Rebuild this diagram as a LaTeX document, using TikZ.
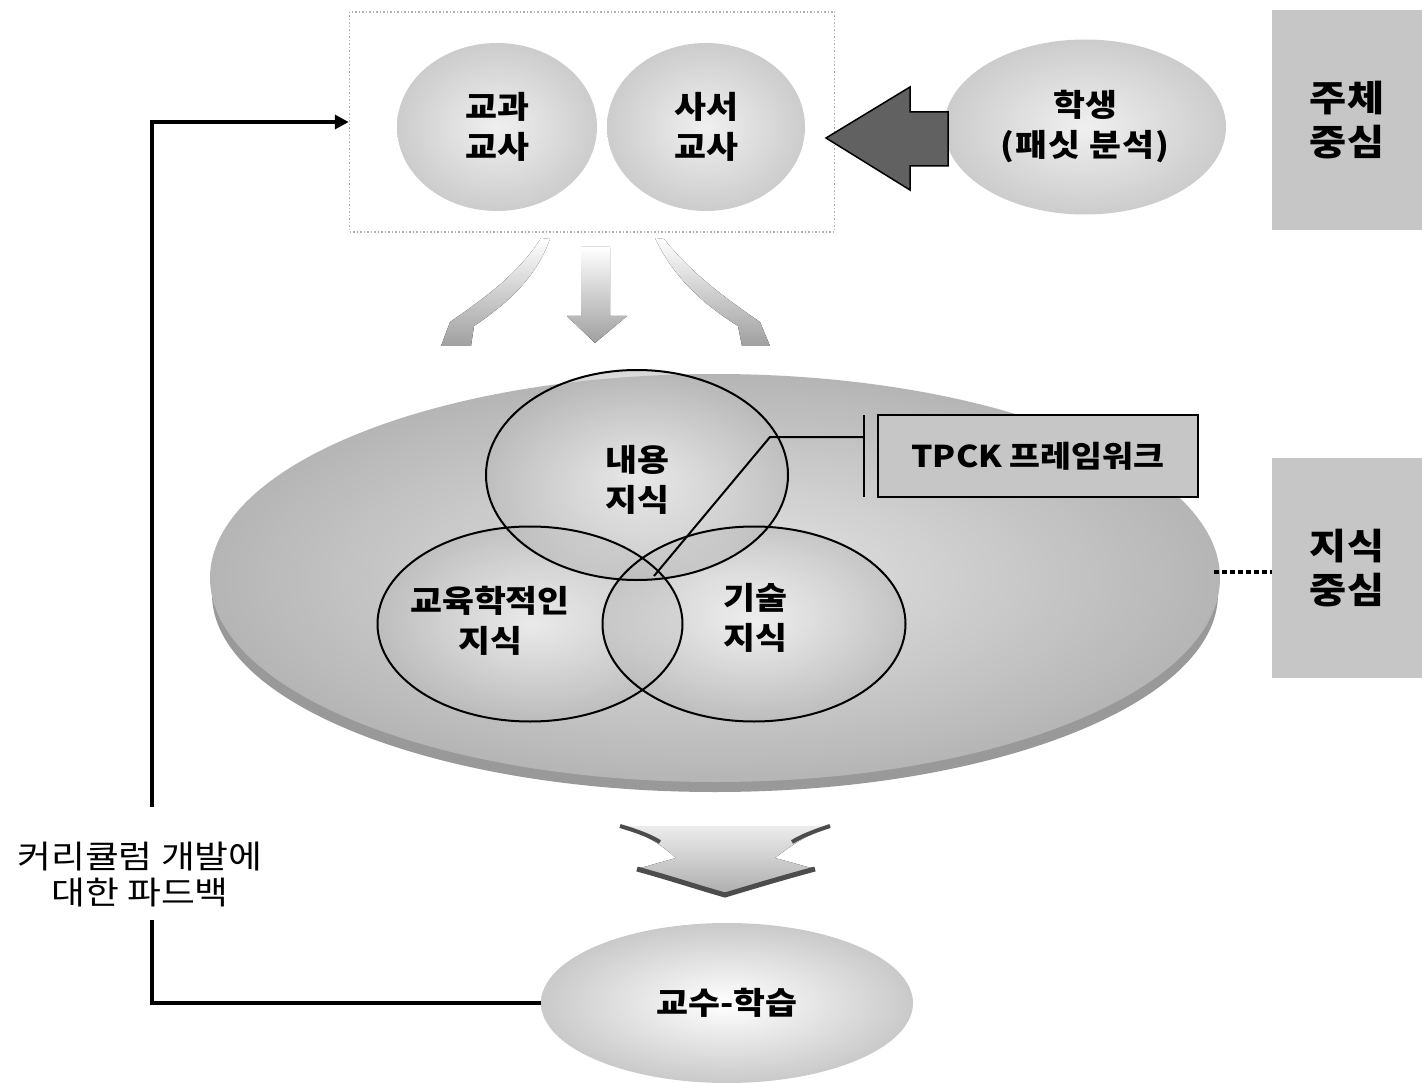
\documentclass[tikz,border=0pt]{standalone}
\usepackage{fontspec}
\newfontfamily\kr{Noto Sans CJK KR}[FakeStretch=1.12]
\newfontfamily\krwide{Noto Sans CJK KR}[FakeStretch=1.15]
\usetikzlibrary{shapes.geometric,arrows.meta}
\tikzset{
  lbl/.style={font=\kr\bfseries\fontsize{31}{40}\selectfont, align=center, text=black},
  sidelbl/.style={font=\kr\bfseries\fontsize{36}{44}\selectfont, align=center, text=black},
  softell/.style={ellipse, inner sep=0pt, shading=radial, inner color=gray!12, outer color=gray!40},
  sidebox/.style={rectangle, inner sep=0pt, fill=gray!45, minimum width=150pt, minimum height=220pt},
  vennc/.style={ellipse, inner sep=0pt, shading=radial, inner color=white, outer color=gray!55, fill opacity=0.55},
  vennline/.style={draw=black, line width=2pt},
  fadearrow/.style={shading=axis, top color=white, bottom color=gray!75},
  fbline/.style={line width=3.5pt, black},
}
\begin{document}
\begin{tikzpicture}[x=1pt,y=-1pt]
\useasboundingbox (0,0) rectangle (1422,1083);
\fill[white] (0,0) rectangle (1422,1083);

% ---- top group: teachers and student ----
\node[draw=gray!60, dotted, line width=1.5pt, minimum width=485pt, minimum height=220pt, inner sep=0pt] (topbox) at (592,122) {};
\node[softell, minimum width=200pt, minimum height=168pt] (subj) at (497,127) {};
\node[lbl] at (subj) {교과\\교사};
\node[softell, minimum width=198pt, minimum height=168pt] (libr) at (706,127) {};
\node[lbl] at (libr) {사서\\교사};
\node[softell, minimum width=282pt, minimum height=175pt] (stud) at (1085,127) {};
\node[lbl] at (stud) {학생\\{\addfontfeature{LetterSpace=4}(패싯 분석)}};
\fill[black!62, draw=black, line width=1.5pt] (826,138) -- (910,87) -- (910,112) -- (948,112) -- (948,166) -- (910,166) -- (910,190) -- cycle;

\node[sidebox] (subjc) at (1347,120) {};
\node[sidelbl] at (subjc) {주체\\중심};

% ---- fading arrows into the knowledge field ----
\fill[fadearrow] (541,238) -- (550,239) .. controls (535,280) and (505,305) .. (474,326) -- (471,346) -- (441,346) -- (450,322) .. controls (485,298) and (520,272) .. (541,238) -- cycle;
\fill[fadearrow] (581,247) -- (610,247) -- (610,316) -- (627,316) -- (595,343) -- (567,316) -- (581,316) -- cycle;
\fill[fadearrow] (655,238) -- (664,239) .. controls (690,272) and (725,298) .. (760,322) -- (770,346) -- (742,346) -- (738,326) .. controls (705,305) and (675,280) .. (655,238) -- cycle;

% ---- knowledge field ----
\fill[gray!80] (715,594) ellipse [x radius=503pt, y radius=198pt];
\node[ellipse, inner sep=0pt, minimum width=1010pt, minimum height=408pt, shading=radial, inner color=gray!20, outer color=gray!58] (field) at (715,578) {};

\node[vennc, minimum width=305pt, minimum height=195pt] (ped) at (530,624) {};
\node[vennc, minimum width=303pt, minimum height=195pt] (tec) at (754,624) {};
\node[vennc, minimum width=302pt, minimum height=210pt] (con) at (637,475) {};
\draw[vennline] (ped.center) ellipse [x radius=152.5pt, y radius=97.5pt];
\draw[vennline] (tec.center) ellipse [x radius=151.5pt, y radius=97.5pt];
\draw[vennline] (con.center) ellipse [x radius=151pt, y radius=105pt];
\node[lbl] at (637,480) {내용\\지식};
\node[lbl] at (490,621) {교육학적인\\지식};
\node[lbl] at (755,618) {기술\\지식};

% ---- TPCK label ----
\node[draw=black, line width=2.5pt, fill=gray!45, minimum width=320pt, minimum height=82pt, inner sep=0pt] (tpck) at (1038,456) {};
\node[lbl, font=\kr\bfseries\fontsize{30}{36}\selectfont] at (tpck) {TPCK 프레임워크};
\coordinate (tpin) at (654,576);
\coordinate (brk) at ([xshift=-13pt]tpck.west);
\draw[line width=2pt] (tpin) -- (770,437) -- (brk |- 0,437);
\draw[line width=2pt] ([yshift=-41pt]brk) -- ([yshift=41pt]brk);

\node[sidebox] (knowc) at (1347,568) {};
\node[sidelbl] at (knowc) {지식\\중심};
\draw[black, line width=3.5pt, dash pattern=on 5pt off 3pt] (1214,572) -- (knowc.west |- 0,572);

% ---- down arrow to teaching ----
\fill[shading=axis, top color=gray!15, bottom color=gray!65] (620,826) .. controls (650,836) and (665,848) .. (676,858) -- (637,869) .. controls (670,878) and (700,888) .. (725,896) .. controls (755,886) and (785,877) .. (815,869) -- (775,858) .. controls (790,846) and (805,836) .. (830,826) -- cycle;
\draw[gray!60!black, line width=4pt] (620,826) .. controls (640,832) and (650,836) .. (660,842);
\draw[gray!60!black, line width=4pt] (830,826) .. controls (812,832) and (802,836) .. (792,842);
\draw[gray!60!black, line width=5pt] (637,869) .. controls (670,878) and (700,888) .. (725,895) .. controls (755,886) and (785,877) .. (815,869);

\node[softell, minimum width=372pt, minimum height=160pt, inner color=white, outer color=gray!42] (teach) at (727,1003) {};
\node[lbl] at (teach) {교수-학습};

% ---- feedback loop ----
\node[font=\krwide\fontsize{32}{36}\selectfont, align=center] (fb) at (140,875) {커리큘럼 개발에\\대한 파드백};
\coordinate (fblow) at (152,920);
\coordinate (fbup) at (152,807);
\draw[fbline] (teach.west) -| (fblow);
\draw[fbline, -{Triangle[length=14pt, width=14pt]}] (fbup) |- (topbox.west);
\end{tikzpicture}
\end{document}
